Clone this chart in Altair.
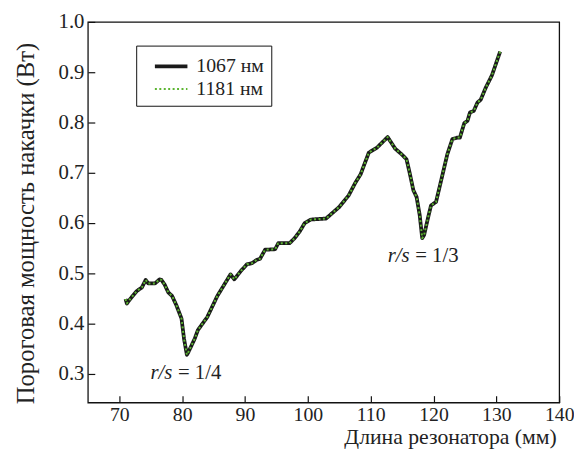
import altair as alt
import pandas as pd

# Resonator length (mm) and threshold pump power (W)
length_mm = [71.0, 71.2, 71.8, 72.8, 73.6, 74.2, 74.6, 75.7, 76.4, 76.7, 77.2, 77.8,
             78.4, 79.1, 79.9, 80.3, 80.75, 80.9, 81.4, 82.0, 82.5, 84.0, 85.6, 87.7,
             88.3, 89.3, 90.3, 91.1, 91.9, 92.4, 93.2, 94.8, 95.3, 97.1, 97.9, 98.7,
             99.5, 100.5, 102.9, 105.0, 106.5, 107.6, 108.4, 109.7, 111.0, 112.7, 113.9,
             114.9, 115.7, 116.2, 116.8, 117.3, 117.8, 118.2, 118.5, 119.1, 119.6, 120.4,
             121.2, 122.2, 123.0, 123.8, 124.2, 124.9, 125.4, 125.8, 126.4, 127.0, 127.5,
             128.3, 129.3, 130.6]
power_w = [0.449, 0.440, 0.450, 0.465, 0.472, 0.487, 0.480, 0.480, 0.488, 0.487, 0.478, 0.462,
           0.455, 0.436, 0.410, 0.370, 0.338, 0.341, 0.354, 0.370, 0.387, 0.413, 0.455, 0.498,
           0.488, 0.504, 0.518, 0.520, 0.527, 0.529, 0.547, 0.548, 0.560, 0.560, 0.570, 0.583,
           0.600, 0.607, 0.609, 0.632, 0.655, 0.681, 0.697, 0.740, 0.750, 0.771, 0.748,
           0.737, 0.727, 0.700, 0.665, 0.652, 0.616, 0.570, 0.576, 0.609, 0.635, 0.642,
           0.684, 0.737, 0.767, 0.770, 0.770, 0.799, 0.803, 0.820, 0.823, 0.840, 0.845,
           0.869, 0.894, 0.941]
series = ["1067 нм", "1181 нм"]

x_ticks = [70, 80, 90, 100, 110, 120, 130, 140]
y_ticks = [0.3, 0.4, 0.5, 0.6, 0.7, 0.8, 0.9, 1.0]

# annotations "r/s = 1/4" and "r/s = 1/3"
ann_x = [74.95, 112.7]
ann_y = [0.29, 0.522]
ann_eq_text = ["= 1/4", "= 1/3"]

rows = []
for s in series:
    for xv, yv in zip(length_mm, power_w):
        rows.append({"x": xv, "y": yv, "series": s})
df = pd.DataFrame(rows)
ann = pd.DataFrame({"x": ann_x, "y": ann_y, "eq": ann_eq_text, "rs": ["r/s", "r/s"]})

FONT = "Liberation Serif"
xdom = [65, 140]
ydom = [0.243, 1.0]
xs = alt.Scale(domain=xdom, nice=False, zero=False)
ys = alt.Scale(domain=ydom, nice=False, zero=False)

NB = "\u00a0"
leg = alt.Legend(title=None, labelExpr="datum.label + '" + NB * 5 + "'")

base = alt.Chart(df)

lines = base.mark_line(strokeJoin="round", clip=True).encode(
    x=alt.X("x:Q", scale=xs, axis=alt.Axis(
        values=x_ticks, ticks=False, domain=False, grid=False, labelPadding=2,
        labelFlush=False, labelFontSize=20,
        title="Длина резонатора (мм)", titleAnchor="end", titleAlign="right",
        titleBaseline="alphabetic", titleY=42, titleX=475, titleFontSize=22,
        orient="bottom")),
    y=alt.Y("y:Q", scale=ys, axis=alt.Axis(
        values=y_ticks, ticks=False, domain=False, grid=False, format=".1f",
        labelFlush=False, labelPadding=4,
        title="Пороговая мощность накачки (Вт)", titlePadding=20,
        titleFontSize=25, titleY=204, orient="left")),
    color=alt.Color("series:N", scale=alt.Scale(domain=series, range=["#1a1a1a", "#5cb531"]),
                    legend=leg),
    strokeDash=alt.StrokeDash("series:N", scale=alt.Scale(domain=series, range=[[1, 0], [2, 2.5]]),
                              legend=leg),
    strokeWidth=alt.StrokeWidth("series:N", scale=alt.Scale(domain=series, range=[3.8, 2.0]),
                                legend=leg),
)

ticks = base.mark_point(opacity=0).encode(
    x=alt.X("x:Q", scale=xs, axis=alt.Axis(
        values=x_ticks, orient="bottom", offset=-7, tickSize=7, labels=False,
        domain=False, grid=False, title=None, tickColor="#111", tickWidth=1.2)),
    y=alt.Y("y:Q", scale=ys, axis=alt.Axis(
        values=y_ticks, orient="left", offset=-7, tickSize=7, labels=False,
        domain=False, grid=False, title=None, tickColor="#111", tickWidth=1.2)),
)

abase = alt.Chart(ann)
rs_text = abase.mark_text(align="left", baseline="alphabetic", font=FONT, fontSize=21,
                          fontStyle="italic", color="#222").encode(
    x=alt.X("x:Q", scale=xs, axis=None),
    y=alt.Y("y:Q", scale=ys, axis=None),
    text="rs:N",
)
eq_text = abase.mark_text(align="left", baseline="alphabetic", font=FONT, fontSize=21,
                          color="#222", dx=28).encode(
    x=alt.X("x:Q", scale=xs, axis=None),
    y=alt.Y("y:Q", scale=ys, axis=None),
    text="eq:N",
)

chart = alt.layer(lines, ticks, rs_text, eq_text).resolve_axis(
    x="independent", y="independent"
).properties(
    width=478, height=386,
    autosize=alt.AutoSizeParams(type="none"),
    padding={"left": 81, "top": 11, "right": 15, "bottom": 47},
).configure_view(
    stroke="#111", strokeWidth=1.3
).configure_axis(
    labelFont=FONT, labelFontSize=21, labelColor="#222",
    titleFont=FONT, titleFontSize=20, titleColor="#222", titleFontWeight="normal",
).configure_legend(
    orient="none", legendX=49, legendY=24,
    strokeColor="#111", fillColor="white", padding=7,
    labelFont=FONT, labelFontSize=20, labelColor="#222", labelLimit=300,
    symbolType="M-0.17,0H2.58", symbolSize=576, rowPadding=0, labelOffset=26,
)

chart.save("out.html", embed_options={"renderer": "svg", "actions": False})
